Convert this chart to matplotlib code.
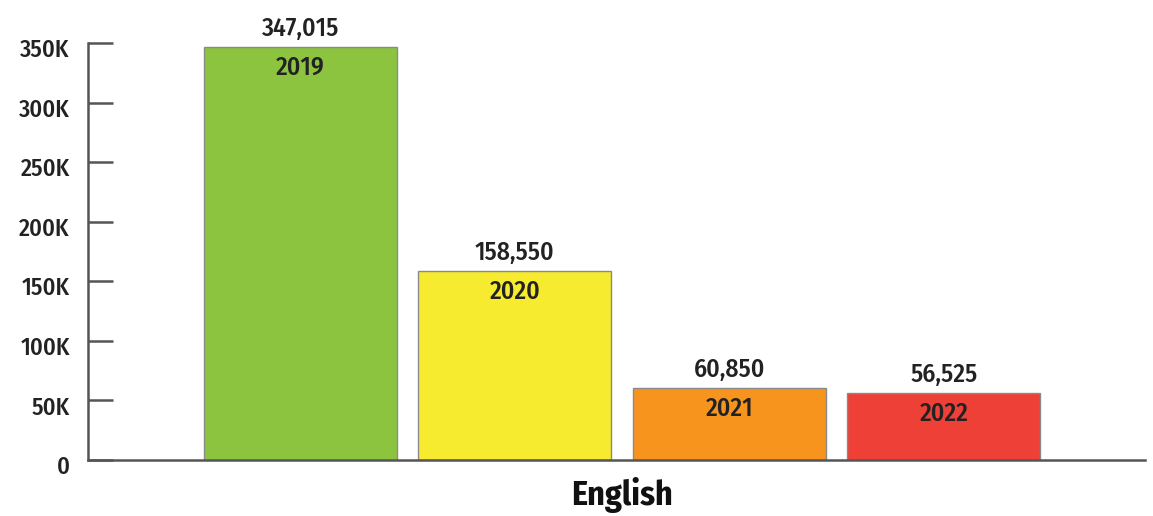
import matplotlib.pyplot as plt
from matplotlib.transforms import ScaledTranslation
import numpy as np

plt.rcParams['font.family'] = ['Fira Sans Condensed', 'PT Sans Narrow', 'DejaVu Sans']

years = ['2019', '2020', '2021', '2022']
values = [347015, 158550, 60850, 56525]
colors = ['#8cc43f', '#f6eb2f', '#f7941e', '#ee4036']
category = 'English'
yticks = [0, 50000, 100000, 150000, 200000, 250000, 300000, 350000]
ytick_labels = ['0', '50K', '100K', '150K', '200K', '250K', '300K', '350K']

fig = plt.figure(figsize=(11.53, 5.16), dpi=100)
ax = fig.add_axes([0.0763, 0.1085, 0.9167, 0.8082])

x = np.arange(len(years))
ax.bar(x, values, width=0.9, color=colors, edgecolor='#8a8a8a', linewidth=1.0, zorder=2)

# value above the bar, year just inside the top
for xi, v, yr in zip(x, values, years):
    ax.text(xi, v + 9200, f'{v:,}', ha='center', va='baseline', fontsize=18.5,
            fontweight='medium', color='#222222')
    ax.text(xi, v - 23500, yr, ha='center', va='baseline', fontsize=18.5,
            fontweight='medium', color='#222222')

ax.set_xlim(-0.99, 3.937)
ax.set_ylim(0, 350000)
ax.set_yticks(yticks)
ax.set_yticklabels(ytick_labels, fontsize=17.5, fontweight='medium', color='#222222')
ax.tick_params(axis='y', direction='in', length=18, width=1.8, color='#555555', pad=13)
off = ScaledTranslation(0, -5 / 100, fig.dpi_scale_trans)
for lab in ax.get_yticklabels():
    lab.set_transform(lab.get_transform() + off)

ax.set_xticks([1.5])
ax.set_xticklabels([category], fontsize=24.5, fontweight='bold', color='#111111')
ax.tick_params(axis='x', length=0, pad=12)

for s in ['top', 'right']:
    ax.spines[s].set_visible(False)
for s in ['left', 'bottom']:
    ax.spines[s].set_color('#555555')
    ax.spines[s].set_linewidth(1.8)

plt.savefig('out.png', dpi=100)
